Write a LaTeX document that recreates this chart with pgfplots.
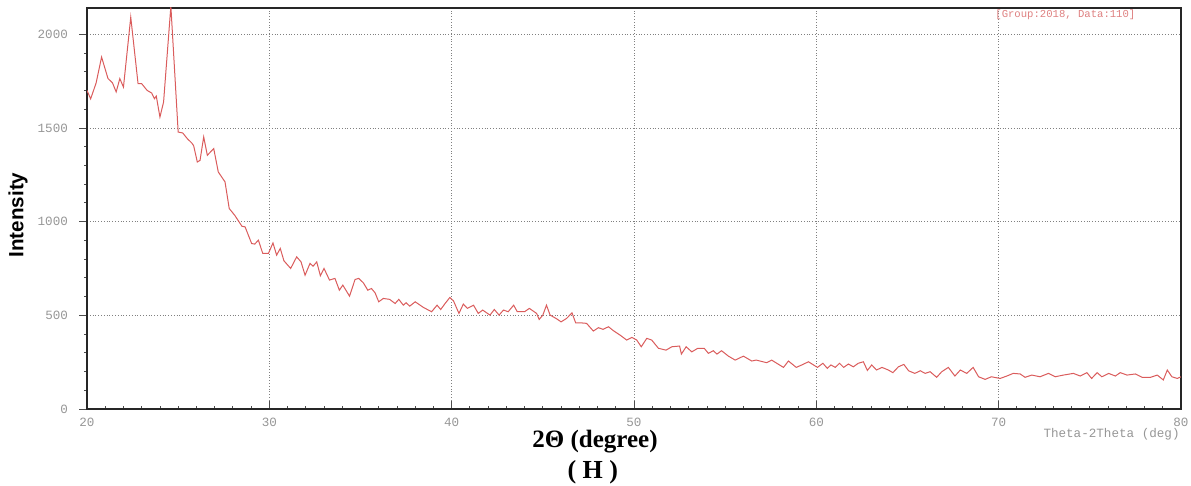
\documentclass[border=0pt]{standalone}
\usepackage{fontspec}
\setmainfont{Liberation Serif}
\newfontfamily\monofont{Liberation Mono}
\newfontfamily\sansfont{Liberation Sans}
\usepackage{pgfplots}
\pgfplotsset{compat=1.18}
\definecolor{curve}{RGB}{218,92,92}
\definecolor{tickgray}{RGB}{150,150,150}
\definecolor{tagcol}{RGB}{222,128,128}
\begin{document}
\begin{tikzpicture}[x=1pt,y=1pt]
\begin{axis}[at={(43.5pt,38.5pt)}, anchor=south west, scale only axis,
  width=547pt, height=200.5pt,
  xmin=20, xmax=80, ymin=0, ymax=2140,
  xtick={20,30,...,80}, ytick={0,500,...,2000},
  minor x tick num=9, minor y tick num=4,
  xtick pos=left, ytick pos=left, tick align=outside,
  xtick align=inside,
  major tick length=4pt, minor tick length=1.5pt,
  grid=major, major grid style={densely dotted, black!50, line width=0.4pt},
  axis line style={line width=0.6pt, black!85},
  tick style={black!70, line width=0.4pt},
  ticklabel style={font=\monofont\fontsize{6.3}{7}\selectfont, text=tickgray},
  yticklabel style={xshift=-2pt},
  xticklabel style={yshift=-1pt},
  /pgf/number format/assume math mode=true,
  /pgf/number format/1000 sep={},
  clip=true]
\addplot[curve, line width=0.5pt] coordinates {
(20.0,1700) (20.2,1655) (20.5,1740) (20.8,1878) (21.15,1764) (21.4,1740) (21.6,1692)
(21.8,1763) (22.0,1718) (22.4,2091) (22.8,1736) (23.0,1736) (23.3,1700) (23.55,1686)
(23.7,1656) (23.8,1670) (24.0,1558) (24.2,1638) (24.6,2150) (25.0,1478) (25.25,1473)
(25.5,1443) (25.75,1419) (25.85,1405) (26.05,1318) (26.2,1327) (26.4,1452) (26.6,1354)
(26.95,1390) (27.2,1265) (27.57,1212) (27.8,1070) (28.1,1034) (28.5,975) (28.67,972)
(29.03,883) (29.2,880) (29.4,901) (29.64,830) (29.95,830) (30.2,886) (30.4,821)
(30.6,857) (30.8,791) (31.17,750) (31.5,812) (31.74,785) (31.96,714) (32.23,777)
(32.4,762) (32.6,785) (32.8,711) (33.0,750) (33.3,688) (33.6,697) (33.84,634)
(34.03,661) (34.4,602) (34.7,691) (34.9,697) (35.16,673) (35.4,634) (35.6,643)
(35.8,620) (36.0,572) (36.25,590) (36.6,585) (36.9,563) (37.1,585) (37.35,554)
(37.5,567) (37.7,549) (38.0,572) (38.45,542) (38.9,519) (39.2,554) (39.4,531)
(39.64,563) (39.9,595) (40.1,577) (40.4,510) (40.64,560) (40.86,537) (41.2,554)
(41.46,510) (41.7,528) (42.1,501) (42.34,531) (42.6,501) (42.84,528) (43.1,519)
(43.4,554) (43.6,519) (44.0,519) (44.26,537) (44.66,510) (44.8,478) (45.0,501)
(45.2,554) (45.4,501) (45.73,483) (46.0,465) (46.3,483) (46.6,513) (46.8,460)
(47.05,460) (47.4,457) (47.77,416) (48.05,434) (48.3,425) (48.6,439) (48.87,418)
(49.24,394) (49.6,368) (49.88,382) (50.15,368) (50.4,332) (50.7,377) (50.97,368)
(51.34,324) (51.76,314) (52.07,332) (52.5,336) (52.6,293) (52.86,332) (53.17,305)
(53.5,324) (53.85,324) (54.08,297) (54.35,311) (54.55,293) (54.8,311) (55.18,282)
(55.55,261) (56.0,282) (56.46,256) (56.7,261) (57.28,247) (57.55,261) (57.83,244)
(58.2,222) (58.47,256) (58.9,222) (59.2,235) (59.57,252) (60.06,222) (60.36,244)
(60.6,217) (60.8,235) (61.04,222) (61.27,244) (61.5,222) (61.76,240) (62.03,225)
(62.3,244) (62.58,252) (62.8,206) (63.04,235) (63.3,208) (63.6,222) (63.95,208)
(64.2,194) (64.5,225) (64.8,238) (65.06,204) (65.4,190) (65.7,204) (65.97,190)
(66.24,199) (66.6,169) (66.88,199) (67.24,222) (67.6,176) (67.9,208) (68.25,190)
(68.6,222) (68.9,172) (69.26,158) (69.6,172) (70.08,163) (70.45,176) (70.8,190)
(71.18,187) (71.45,169) (71.82,181) (72.27,172) (72.73,190) (73.1,172) (73.55,181)
(74.1,190) (74.47,176) (74.84,194) (75.1,163) (75.4,194) (75.66,172) (76.03,190)
(76.4,176) (76.67,194) (77.04,181) (77.5,187) (77.87,169) (78.33,169) (78.7,181)
(79.03,155) (79.25,208) (79.5,172) (79.8,163) (80.0,172)
};
\end{axis}
\node[rotate=90, font=\sansfont\bfseries\fontsize{10.3}{12}\selectfont] at (9,135.5) {Intensity};
\node[font=\bfseries\fontsize{12.5}{14}\selectfont] at (297.5,22) {2Θ (degree)};
\node[font=\bfseries\fontsize{13}{15}\selectfont, inner sep=0pt] at (296.4,7) {( H )};
\node[anchor=east, inner sep=0pt, font=\monofont\fontsize{6.3}{7}\selectfont, text=tickgray] at (590,25.8) {Theta-2Theta (deg)};
\node[anchor=west, inner sep=0pt, font=\monofont\fontsize{5.3}{6}\selectfont, text=tagcol] at (497.5,235.5) {[Group:2018, Data:110]};
\pgfresetboundingbox
\path[use as bounding box] (0,0) rectangle (595.5,243);
\end{tikzpicture}
\end{document}
